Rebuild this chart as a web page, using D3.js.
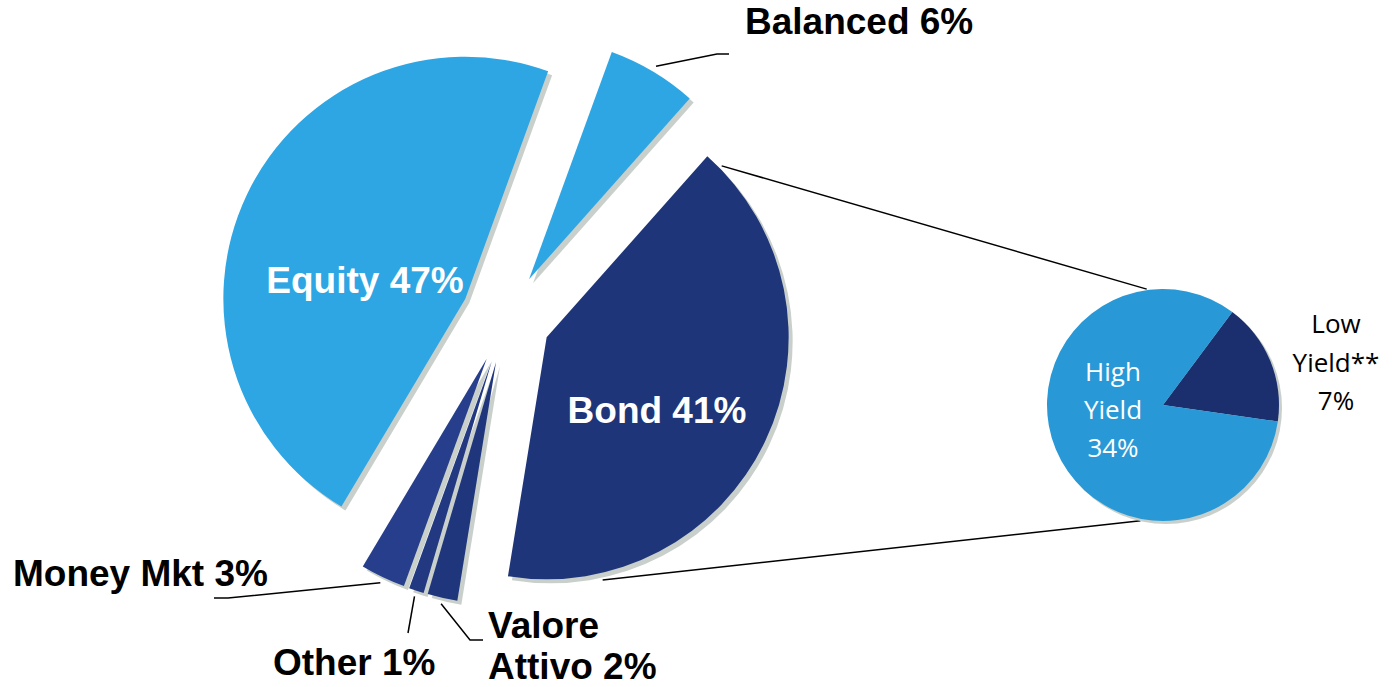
<!DOCTYPE html>
<html>
<head>
<meta charset="utf-8">
<script src="https://cdn.jsdelivr.net/npm/d3@7"></script>
<style>
  body { margin: 0; background: #fff; }
  text { font-family: "Liberation Sans", Arial, sans-serif; }
  .sub text { font-family: "Open Sans", "Noto Sans", sans-serif; }
</style>
</head>
<body>
<div id="chart"></div>
<script>
// asset mix, in percent
const categories = ["Balanced", "Bond", "Valore Attivo", "Other", "Money Mkt", "Equity"];
const shares = [6, 41, 2, 1, 3, 47];
// breakdown of the bond slice
const bondCategories = ["Low Yield**", "High Yield"];
const bondShares = [7, 34];

const width = 1397, height = 687;
const deg = Math.PI / 180;

const colors = {
  "Balanced": "#2ea6e3", "Bond": "#1f3579", "Valore Attivo": "#1f367d",
  "Other": "#223982", "Money Mkt": "#263e8b", "Equity": "#2ea6e3",
  "Low Yield**": "#1b2e6e", "High Yield": "#2899d6"
};
const shadowColor = "#c9d0cb";

// main pie geometry
const cx = 506, cy = 318, radius = 242, explode = 45;
// small pie geometry
const sx = 1163, sy = 405, sradius = 116;

// label placement (layout only)
const labelLayout = {
  "Equity":        { x: 365, y: [293], anchor: "middle", fill: "#fff", breaks: [] },
  "Bond":          { x: 657, y: [423], anchor: "middle", fill: "#fff", breaks: [] },
  "Balanced":      { x: 745, y: [34], anchor: "start", fill: "#000", breaks: [], leader: [[717, 54], [729, 54]] },
  "Money Mkt":     { x: 13, y: [586], anchor: "start", fill: "#000", breaks: [], leader: [[228, 598], [214, 598]] },
  "Other":         { x: 273, y: [675], anchor: "start", fill: "#000", breaks: [], leader: [[408, 633]] },
  "Valore Attivo": { x: 488, y: [638, 679], anchor: "start", fill: "#000", breaks: [1], leader: [[470, 640], [483, 640]] }
};
const subLabelLayout = {
  "High Yield":  { x: 1113, y: [381, 419, 457], fill: "#fff" },
  "Low Yield**": { x: 1336, y: [333, 372, 410], fill: "#000" }
};

const svg = d3.select("#chart").append("svg")
  .attr("width", width)
  .attr("height", height);

const data = categories.map((c, i) => ({ label: c, value: shares[i] }));
const pie = d3.pie().sort(null).value(d => d.value)
  .startAngle(20 * deg).endAngle(380 * deg);
const arcs = pie(data);
const arc = d3.arc().innerRadius(0).outerRadius(radius);

function mid(d) { return (d.startAngle + d.endAngle) / 2; }
function apex(d) {
  const a = mid(d);
  return [cx + explode * Math.sin(a), cy - explode * Math.cos(a)];
}
function polar(origin, a, r) {
  return [origin[0] + r * Math.sin(a), origin[1] - r * Math.cos(a)];
}

// shadows first, then slices
const main = svg.append("g").attr("class", "main");
main.selectAll("path.shadow")
  .data(arcs)
  .enter()
  .append("path")
  .attr("class", "shadow")
  .attr("fill", shadowColor)
  .attr("transform", d => { const p = apex(d); return "translate(" + (p[0] + 4) + "," + (p[1] + 4) + ")"; })
  .attr("d", arc);

main.selectAll("path.slice")
  .data(arcs)
  .enter()
  .append("path")
  .attr("class", "slice")
  .attr("fill", d => colors[d.data.label])
  .attr("transform", d => { const p = apex(d); return "translate(" + p[0] + "," + p[1] + ")"; })
  .attr("d", arc);

// leader lines
const line = d3.line();
arcs.forEach(d => {
  const lay = labelLayout[d.data.label];
  if (!lay.leader) return;
  const start = polar(apex(d), mid(d), radius + 6);
  main.append("path")
    .attr("d", line([start].concat(lay.leader)))
    .attr("fill", "none")
    .attr("stroke", "#000")
    .attr("stroke-width", 1.5);
});

// labels
arcs.forEach(d => {
  const lay = labelLayout[d.data.label];
  const words = (d.data.label + " " + d.data.value + "%").split(" ");
  const cuts = [0].concat(lay.breaks).concat([words.length]);
  const t = main.append("text")
    .attr("text-anchor", lay.anchor)
    .attr("fill", lay.fill)
    .attr("font-weight", "bold")
    .attr("font-size", 37);
  for (let i = 0; i < cuts.length - 1; i++) {
    t.append("tspan")
      .attr("x", lay.x)
      .attr("y", lay.y[i])
      .text(words.slice(cuts[i], cuts[i + 1]).join(" "));
  }
});

// small pie for the bond breakdown
const subData = bondCategories.map((c, i) => ({ label: c, value: bondShares[i] }));
const subPie = d3.pie().sort(null).value(d => d.value)
  .startAngle(36.7 * deg).endAngle(396.7 * deg);
const subArcs = subPie(subData);
const subArc = d3.arc().innerRadius(0).outerRadius(sradius);

// connectors from the bond slice to the small pie
const bond = arcs.find(d => d.data.label === "Bond");
const bondApex = apex(bond);
const connectors = [
  [polar(bondApex, bond.startAngle + 4 * deg, radius + 3), polar([sx, sy], -8 * deg, sradius + 1)],
  [polar(bondApex, 167 * deg, radius + 7), polar([sx, sy], 191 * deg, sradius + 2)]
];
svg.selectAll("path.connector")
  .data(connectors)
  .enter()
  .append("path")
  .attr("class", "connector")
  .attr("d", d => line(d))
  .attr("fill", "none")
  .attr("stroke", "#000")
  .attr("stroke-width", 1.5);

const sub = svg.append("g").attr("class", "sub");
sub.append("circle")
  .attr("cx", sx + 3)
  .attr("cy", sy + 3)
  .attr("r", sradius)
  .attr("fill", shadowColor);
sub.selectAll("path.slice")
  .data(subArcs)
  .enter()
  .append("path")
  .attr("class", "slice")
  .attr("transform", "translate(" + sx + "," + sy + ")")
  .attr("fill", d => colors[d.data.label])
  .attr("d", subArc);

subArcs.forEach(d => {
  const lay = subLabelLayout[d.data.label];
  const words = d.data.label.split(" ").concat([d.data.value + "%"]);
  const t = sub.append("text")
    .attr("text-anchor", "middle")
    .attr("fill", lay.fill)
    .attr("font-size", 26);
  words.forEach((w, i) => {
    t.append("tspan").attr("x", lay.x).attr("y", lay.y[i]).text(w);
  });
});
</script>
</body>
</html>
